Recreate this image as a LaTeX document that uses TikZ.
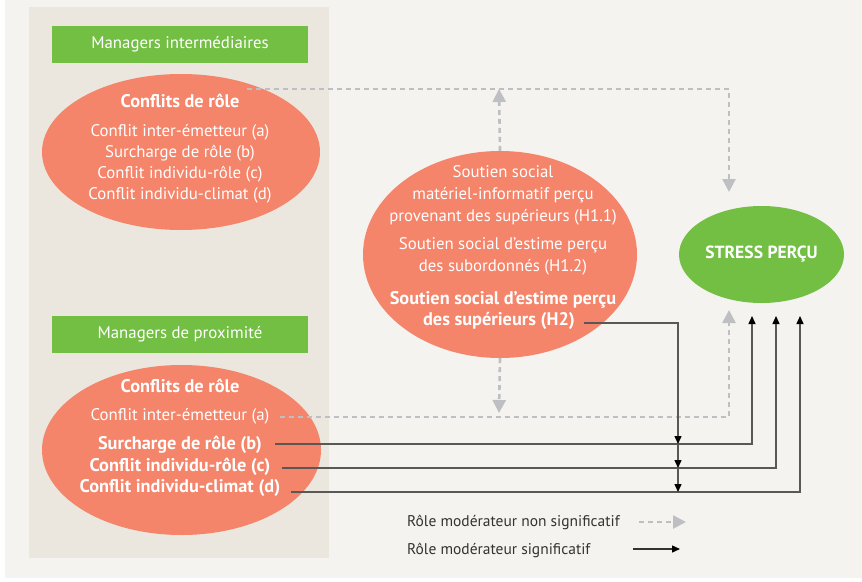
\documentclass[tikz,border=0pt]{standalone}
\usepackage{fontspec}
\setmainfont{PT Sans}
\usetikzlibrary{shapes.geometric,arrows.meta}

\definecolor{saumon}{HTML}{F4846A}
\definecolor{vert}{HTML}{72BF44}
\definecolor{creme}{HTML}{F5F3EF}
\definecolor{beige}{HTML}{EBE7DF}
\definecolor{grisclair}{HTML}{BDBFC2}
\definecolor{grisfonce}{HTML}{5A5757}

\tikzset{
  titre/.style={fill=vert,text=white,minimum width=256pt,minimum height=37pt,
    inner sep=0pt,font=\fontsize{16.8}{18}\selectfont},
  bulle/.style={ellipse,fill=saumon,inner sep=0pt},
  txt/.style={text=white,font=\fontsize{16.8}{22}\selectfont,align=center,inner sep=1pt},
  txtb/.style={txt,font=\fontsize{18.3}{22}\selectfont\bfseries},
  legende/.style={text=black!80,font=\fontsize{15.5}{17}\selectfont,anchor=west,inner sep=0pt},
  nonsig/.style={grisclair,line width=2.6pt,dash pattern=on 5pt off 4pt,
    -{Triangle[length=13pt,width=13pt]}},
  sig/.style={grisfonce,line width=1.4pt,-{Triangle[length=8pt,width=7pt,color=black]}},
}

\begin{document}
\begin{tikzpicture}[x=1pt,y=-1pt]
        \useasboundingbox (0,0) rectangle (862,581) ;
        \fill[white] (0,0) rectangle (862,581) ;
        \fill[creme] (5,0) rectangle (862,578) ;
        \fill[beige] (29,7) rectangle (329,558) ;

        % managers intermediaires
        \node[titre] (mi) at (180,44.5) {Managers intermédiaires} ;
        \node[bulle,minimum width=278pt,minimum height=156pt] (e1) at (181,152) {} ;
        \node[txtb] (t1) at (180,101) {Conflits de rôle} ;
        \node[txt] (l1) at (180,163.5)
          {Conflit inter-émetteur (a)\\[-1pt]Surcharge de rôle (b)\\[-1pt]Conflit individu-rôle (c)\\[-1pt]Conflit individu-climat (d)} ;

        % managers de proximite
        \node[titre] (mp) at (180,334.5) {Managers de proximité} ;
        \node[bulle,minimum width=279pt,minimum height=170pt] (e2) at (181.5,450) {} ;
        \node[txtb] (t2) at (180,386) {Conflits de rôle} ;
        \node[txt] (a) at (180,416) {Conflit inter-émetteur (a)} ;
        \node[txtb] (b) at (180,445) {Surcharge de rôle (b)} ;
        \node[txtb] (c) at (180,467) {Conflit individu-rôle (c)} ;
        \node[txtb] (d) at (180,488) {Conflit individu-climat (d)} ;

        % soutien social
        \node[bulle,minimum width=274pt,minimum height=207pt] (mid) at (500,254.5) {} ;
        \node[txt] (h11) at (503,195)
          {Soutien social\\matériel-informatif perçu\\provenant des supérieurs (H1.1)} ;
        \node[txt] (h12) at (503,256)
          {Soutien social d'estime perçu\\des subordonnés (H1.2)} ;
        \node[txtb] (h2a) at (503,300) {Soutien social d'estime perçu} ;
        \node[txtb] (h2) at (499,321) {des supérieurs (H2)} ;

        % stress
        \node[ellipse,fill=vert,minimum width=165pt,minimum height=97pt,inner sep=0pt,
          text=white,font=\fontsize{17.6}{19}\selectfont\bfseries] (stress) at (761.5,254.5) {STRESS PERÇU} ;

        \coordinate (c1) at (247,89) ;
        \coordinate (up) at (499,89) ;
        \coordinate (dn) at (499,413) ;
        \coordinate (s1) at (729,192) ;
        \coordinate (sa) at (729,310) ;
        \coordinate (sb) at (752,316) ;
        \coordinate (sc) at (776,316) ;
        \coordinate (sd) at (800,316) ;
        \coordinate (jb) at (678,444) ;
        \coordinate (jc) at (678,468) ;
        \coordinate (jd) at (678,492) ;

        % non significatif
        \draw[nonsig] (c1) -| (s1) ;
        \draw[nonsig] (mid.north) -- (up) ;
        \draw[nonsig] (mid.south) -- (dn) ;
        \draw[nonsig] (a.east) ++(9,1) -| (sa) ;

        % significatif
        \draw[sig] (b.east) ++(12,-1) -| (sb) ;
        \draw[sig] (c.east) ++(10,1) -| (sc) ;
        \draw[sig] (d.east) ++(9,4) -| (sd) ;
        \draw[sig] (h2.east) ++(8,2) -| (jb) ;
        \draw[sig] (jb) -- (jc) ;
        \draw[sig] (jc) -- (jd) ;

        % legende
        \node[legende] (lg1) at (407,522) {Rôle modérateur non significatif} ;
        \node[legende] (lg2) at (407,550) {Rôle modérateur significatif} ;
        \draw[nonsig] (639,522) -- (686,522) ;
        \draw[sig,black!80] (633,549) -- (680,549) ;
\end{tikzpicture}
\end{document}
